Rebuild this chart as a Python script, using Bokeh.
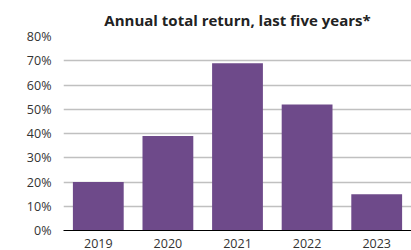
from bokeh.plotting import figure
from bokeh.models import FixedTicker, PrintfTickFormatter, Range1d
from bokeh.embed import file_html
from bokeh.resources import INLINE

years = ["2019", "2020", "2021", "2022", "2023"]
returns = [20, 39, 69, 52, 15]
y_ticks = [0, 10, 20, 30, 40, 50, 60, 70, 80]

p = figure(x_range=years, y_range=Range1d(0, 80), output_backend="svg", toolbar_location=None,
           frame_width=348, frame_height=194, min_border_left=63, min_border_right=0,
           min_border_top=36, min_border_bottom=20,
           title="Annual total return, last five years*")
p.title.align = "center"
p.title.text_font = "Open Sans"
p.title.text_font_size = "15px"
p.title.text_font_style = "bold"
p.title.text_color = "#222222"
p.title.standoff = 14
p.outline_line_color = None

p.vbar(x=years, top=returns, width=0.73, color="#6E4A8A", line_color=None)

p.yaxis.ticker = FixedTicker(ticks=y_ticks)
p.yaxis.formatter = PrintfTickFormatter(format="%d%%")
p.yaxis.axis_line_color = None
p.yaxis.major_tick_line_color = None
p.yaxis.minor_tick_line_color = None
p.yaxis.major_label_standoff = 6
p.xaxis.major_tick_line_color = None
p.xaxis.minor_tick_line_color = None
p.xaxis.axis_line_color = "#000000"
p.xaxis.major_label_standoff = 2
for ax in (p.xaxis, p.yaxis):
    ax.major_label_text_font = "Open Sans"
    ax.major_label_text_font_size = "12.5px"
    ax.major_label_text_color = "#333333"
p.xgrid.grid_line_color = None
p.ygrid.grid_line_color = "#c0c0c0"
p.ygrid.grid_line_width = 1.3

open("out.html", "w").write(file_html(p, INLINE))
